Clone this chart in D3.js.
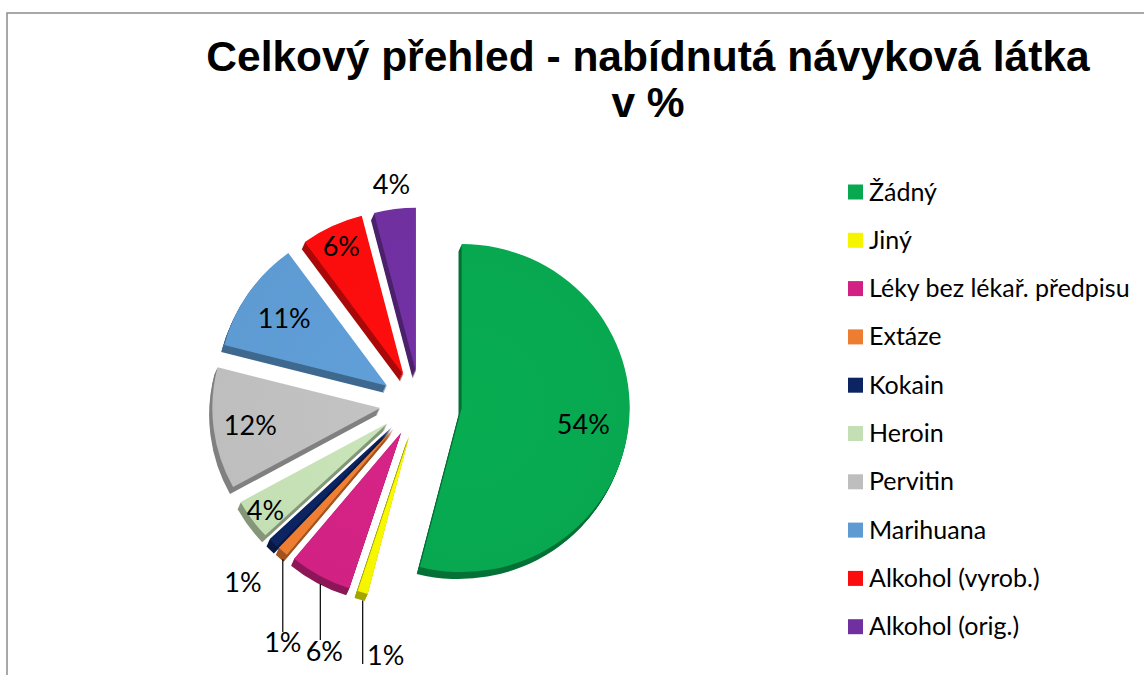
<!DOCTYPE html>
<html>
<head>
<meta charset="utf-8">
<script src="https://cdn.jsdelivr.net/npm/d3@7"></script>
<style>
  body { margin: 0; background: #fff; }
  svg { display: block; }
</style>
</head>
<body>
<svg width="1144" height="675"></svg>
<script>
  // categories in pie order (clockwise from 12 o'clock)
  const categories = ["Žádný", "Jiný", "Léky bez lékař. předpisu", "Extáze", "Kokain",
    "Heroin", "Pervitin", "Marihuana", "Alkohol (vyrob.)", "Alkohol (orig.)"];
  const values = [54, 1, 6, 1, 1, 4, 12, 11, 6, 4];
  const colors = ["#07a850", "#f5f500", "#d12283", "#ed7d31", "#0c2461",
    "#c5dfb5", "#bebebe", "#5e9bd3", "#fb0d0d", "#7030a0"];
  const titleLines = ["Celkový přehled - nabídnutá návyková látka", "v %"];

  // label placement (layout only): inside at radius factor, or outside with leader
  const labelPlacement = [
    { r: 0.73 }, { leader: 664, dx: 23, dy: 6 }, { leader: 640, dx: 4, dy: 26 },
    { leader: 632, dx: 0, dy: 25 }, { r: 1.28, dy: 6, dx: 3 }, { r: 0.9 },
    { r: 0.78 }, { r: 0.74 }, { r: 0.87 }, { r: 1.16 }
  ];

  const svg = d3.select("svg");
  const cx = 421, cy = 404, rx = 168, ry = 164;
  const explode = 41, explodeK = 0.79;
  const depth = 7, ox = -0.45, oy = 1;

  // frame
  svg.append("path")
    .attr("d", "M7,675 V13 H1144")
    .attr("fill", "none")
    .attr("stroke", "#8c8c8c")
    .attr("stroke-width", 1.5);

  svg.append("g")
    .selectAll("text")
    .data(titleLines)
    .enter()
    .append("text")
    .attr("x", 648)
    .attr("y", (d, i) => 71 + i * 46)
    .attr("text-anchor", "middle")
    .attr("font-family", "Liberation Sans, Arial, sans-serif")
    .attr("font-weight", "bold")
    .attr("font-size", 42.5)
    .text(d => d);

  const pie = d3.pie().sort(null).value(d => d)(values);
  const arc = d3.arc().innerRadius(0).outerRadius(rx);

  const slices = pie.map((p, i) => {
    const mid = (p.startAngle + p.endAngle) / 2;
    return {
      p, i, mid,
      x: cx + explode * Math.sin(mid),
      y: cy - explode * explodeK * Math.cos(mid)
    };
  });

  // side walls
  const sides = svg.append("g");
  slices.forEach(s => {
    for (let k = depth; k >= 1; k--) {
      sides.append("path")
        .attr("transform", `translate(${s.x + k * ox},${s.y + k * oy}) scale(1,${ry / rx})`)
        .attr("d", arc(s.p))
        .attr("fill", d3.color(colors[s.i]).darker(1.1));
    }
  });

  // top faces
  const defs = svg.append("defs");
  const tops = svg.append("g");
  slices.forEach(s => {
    const gid = "g" + s.i;
    const grad = defs.append("radialGradient").attr("id", gid)
      .attr("gradientUnits", "userSpaceOnUse")
      .attr("cx", 0).attr("cy", 0).attr("r", rx);
    grad.append("stop").attr("offset", "0%").attr("stop-color", d3.color(colors[s.i]).brighter(0.08));
    grad.append("stop").attr("offset", "100%").attr("stop-color", colors[s.i]);
    tops.append("path")
      .attr("transform", `translate(${s.x},${s.y}) scale(1,${ry / rx})`)
      .attr("d", arc(s.p))
      .attr("fill", `url(#${gid})`);
  });

  // data labels
  const labels = svg.append("g")
    .attr("font-family", "Lato, sans-serif")
    .attr("font-size", 27)
    .attr("fill", "#000");
  slices.forEach(s => {
    const lp = labelPlacement[s.i];
    const txt = values[s.i] + "%";
    if (lp.leader) {
      const x0 = s.x + rx * Math.sin(s.mid);
      const y0 = s.y - ry * Math.cos(s.mid) + 6;
      labels.append("line")
        .attr("x1", x0).attr("y1", y0 + 2)
        .attr("x2", x0).attr("y2", lp.leader)
        .attr("stroke", "#000").attr("stroke-width", 1.2);
      labels.append("text")
        .attr("x", x0 + lp.dx).attr("y", lp.leader + lp.dy - 16)
        .attr("text-anchor", "middle")
        .attr("dominant-baseline", "central")
        .text(txt);
    } else {
      labels.append("text")
        .attr("x", s.x + rx * lp.r * Math.sin(s.mid) + (lp.dx || 0))
        .attr("y", s.y - ry * lp.r * Math.cos(s.mid) + (lp.dy || 0))
        .attr("text-anchor", "middle")
        .attr("dominant-baseline", "central")
        .text(txt);
    }
  });

  // legend
  const legend = svg.append("g")
    .attr("font-family", "Lato, sans-serif")
    .attr("font-size", 25);
  const rows = legend.selectAll("g")
    .data(categories)
    .enter()
    .append("g")
    .attr("transform", (d, i) => `translate(848,${192 + i * 48.3})`);
  rows.append("rect")
    .attr("x", 0).attr("y", -7.5)
    .attr("width", 15).attr("height", 15)
    .attr("fill", (d, i) => colors[i]);
  rows.append("text")
    .attr("x", 21).attr("y", 8.5)
    .text(d => d);
</script>
</body>
</html>
